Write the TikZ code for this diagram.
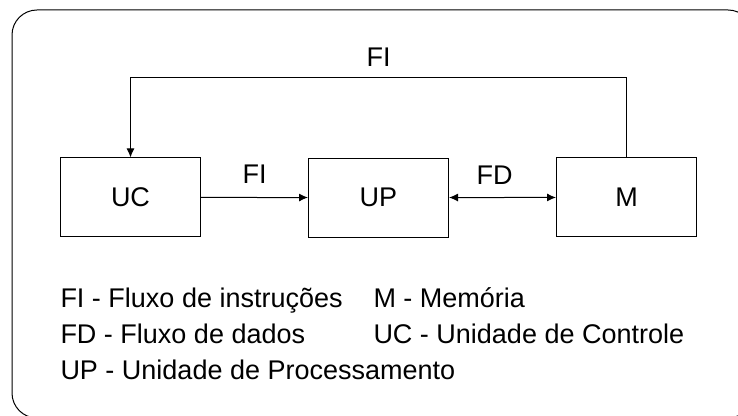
\documentclass[tikz,border=0pt]{standalone}
\usepackage{fontspec}
\setmainfont{Liberation Sans}
\usetikzlibrary{arrows.meta,matrix}

\begin{document}
\begin{tikzpicture}[x=1pt,y=1pt,line width=1pt, every node/.style={font=\fontsize{27}{32}\selectfont},
>={Latex[length=9pt,width=8pt]},
box/.style={draw, minimum width=140pt, minimum height=79pt, inner sep=0pt},
flux/.style={above=13pt, inner sep=0pt},
legend/.style={anchor=base west, inner sep=0pt}]
\clip (0,0) rectangle (738,415);
\draw[rounded corners=25pt] (12,-3) rectangle (753,405);
\matrix (m) at (378.5,217.5) [matrix of nodes, column sep=107pt, nodes={box}]{
UC & UP & M \\
};
\coordinate (fb) at ([yshift=80pt]m-1-1.north);

\draw[->] (m-1-1) -- node[flux] (fi1) {FI} (m-1-2);
\draw[<->] (m-1-2) -- node[flux, xshift=-8pt] (fd) {FD} (m-1-3);
\draw[->] (m-1-3.north) |- node[pos=0.75, above=10pt, inner sep=0pt] (fi2) {FI} (fb) -- (m-1-1.north);

\node[legend] (lfi) at (60,107.7) {FI - Fluxo de instruções};
\node[legend] (lfd) at ([yshift=-36pt]lfi.base west) {FD - Fluxo de dados};
\node[legend] (lup) at ([yshift=-36pt]lfd.base west) {UP - Unidade de Processamento};
\node[legend] (lm) at (373,107.7) {M - Memória};
\node[legend] (luc) at ([yshift=-36pt]lm.base west) {UC - Unidade de Controle};
\end{tikzpicture}
\end{document}
